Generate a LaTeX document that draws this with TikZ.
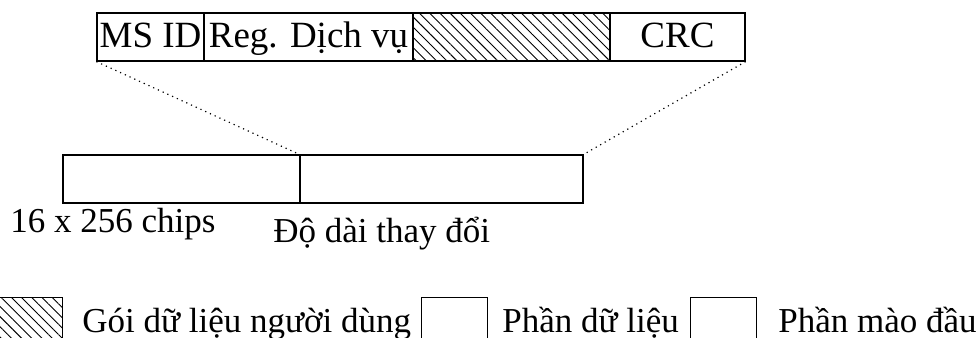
\documentclass[tikz,border=0pt]{standalone}
\usepackage{fontspec}
\setmainfont{Liberation Serif}
\usetikzlibrary{patterns.meta}
\begin{document}
\begin{tikzpicture}[x=0.5pt,y=-0.5pt,
  field/.style={draw, line width=0.6pt, rectangle, inner sep=0pt, minimum height=24pt, text height=13pt, text depth=3pt, font=\fontsize{18.5}{21}\selectfont},
  hatch/.style={pattern={Lines[angle=-45, distance=3.6pt, line width=0.45pt]}},
  txt/.style={inner sep=0pt, font=\fontsize{17.5}{20}\selectfont},
  zoomline/.style={dotted, line width=0.6pt}]
\useasboundingbox (0,0) rectangle (978,337);
\clip (0,0) rectangle (978,337);
% upper frame
\node[field, minimum width=53.5pt] (msid) at (150.5,37) {MS ID};
\node[field, minimum width=104.5pt] (reg) at (308.5,37) {Reg. Dịch vụ};
\node[field, hatch, minimum width=98.5pt] (data) at (511.5,37) {};
\node[field, minimum width=67.5pt] (crc) at (677.5,37) {CRC};

% lower frame
\node[field, minimum width=118.5pt] (pre) at (181.5,179) {};
\node[field, minimum width=141.5pt] (body) at (441.5,179) {};

\draw[zoomline] (msid.south west) -- (body.north west);
\draw[zoomline] (crc.south east) -- (body.north east);

\node[txt, anchor=base west] (prelen) at (10,232) {16 x 256 chips};
\node[txt, anchor=base west] (bodylen) at (273,242) {Độ dài thay đổi};

% legend
\node[field, hatch, anchor=north west, minimum width=32pt, minimum height=30pt] (keyuser) at (-2,297) {};
\node[txt, anchor=base west] (txtuser) at (82,332) {Gói dữ liệu người dùng};
\node[field, anchor=north west, minimum width=33pt, minimum height=30pt] (keydata) at (421,297) {};
\node[txt, anchor=base west] (txtdata) at (502,332) {Phần dữ liệu};
\node[field, anchor=north west, minimum width=33pt, minimum height=30pt] (keyhead) at (690,297) {};
\node[txt, anchor=base west] (txthead) at (778,332) {Phần mào đầu};
\end{tikzpicture}
\end{document}
